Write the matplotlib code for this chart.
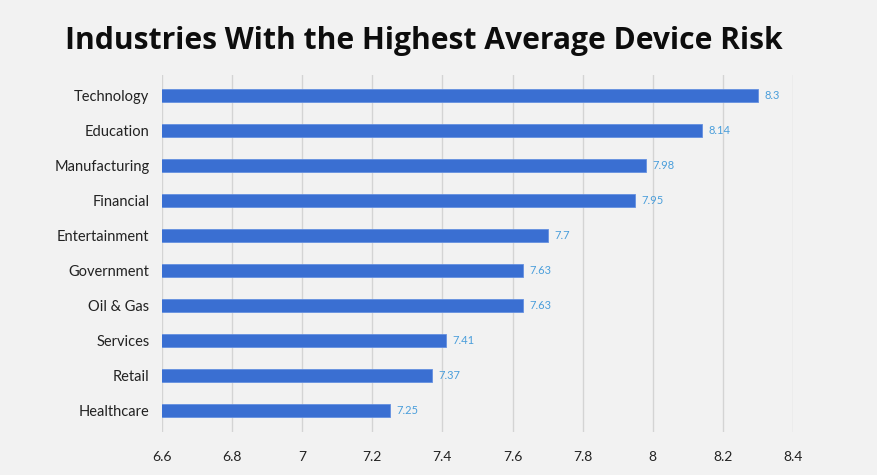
import matplotlib.pyplot as plt

# datos del grafico
industrias = ["Technology", "Education", "Manufacturing", "Financial", "Entertainment",
              "Government", "Oil & Gas", "Services", "Retail", "Healthcare"]
riesgo = [8.3, 8.14, 7.98, 7.95, 7.7, 7.63, 7.63, 7.41, 7.37, 7.25]
etiquetas = ["8.3", "8.14", "7.98", "7.95", "7.7", "7.63", "7.63", "7.41", "7.37", "7.25"]
ticks_x = [6.6, 6.8, 7, 7.2, 7.4, 7.6, 7.8, 8, 8.2, 8.4]
ticks_x_txt = ["6.6", "6.8", "7", "7.2", "7.4", "7.6", "7.8", "8", "8.2", "8.4"]

fondo = "#f2f2f2"

fig = plt.figure(figsize=(8.77, 4.75), dpi=100, facecolor=fondo)
ax = fig.add_axes([0.1847, 0.0905, 0.7195, 0.7515], facecolor=fondo)

pos = list(range(len(industrias)))
ax.barh(pos, riesgo, height=0.37, color="#3a6fd2", edgecolor="#6590e0",
        linewidth=0.6, zorder=3)

for p, v, t in zip(pos, riesgo, etiquetas):
    ax.text(v + 0.018, p, t, va="center", ha="left", fontsize=8,
            color="#4a9edb", family="Lato")

ax.set_xlim(6.6, 8.4)
ax.set_ylim(9.6, -0.57)
ax.set_xticks(ticks_x)
ax.set_xticklabels(ticks_x_txt, family="Lato", fontsize=10, color="#222222")
ax.set_yticks(pos)
ax.set_yticklabels(industrias, family="Lato", fontsize=10.5, color="#222222")

ax.grid(axis="x", color="#d4d4d4", linewidth=1.0, zorder=0)
ax.tick_params(axis="y", length=0, pad=9)
ax.tick_params(axis="x", length=0, pad=14)
for s in ax.spines.values():
    s.set_visible(False)

fig.text(0.483, 0.914, "Industries With the Highest Average Device Risk",
         ha="center", va="center", fontsize=21.6, fontweight="bold",
         family="Open Sans", color="#0d0d0d")

fig.savefig("out.png", dpi=100, facecolor=fondo)
